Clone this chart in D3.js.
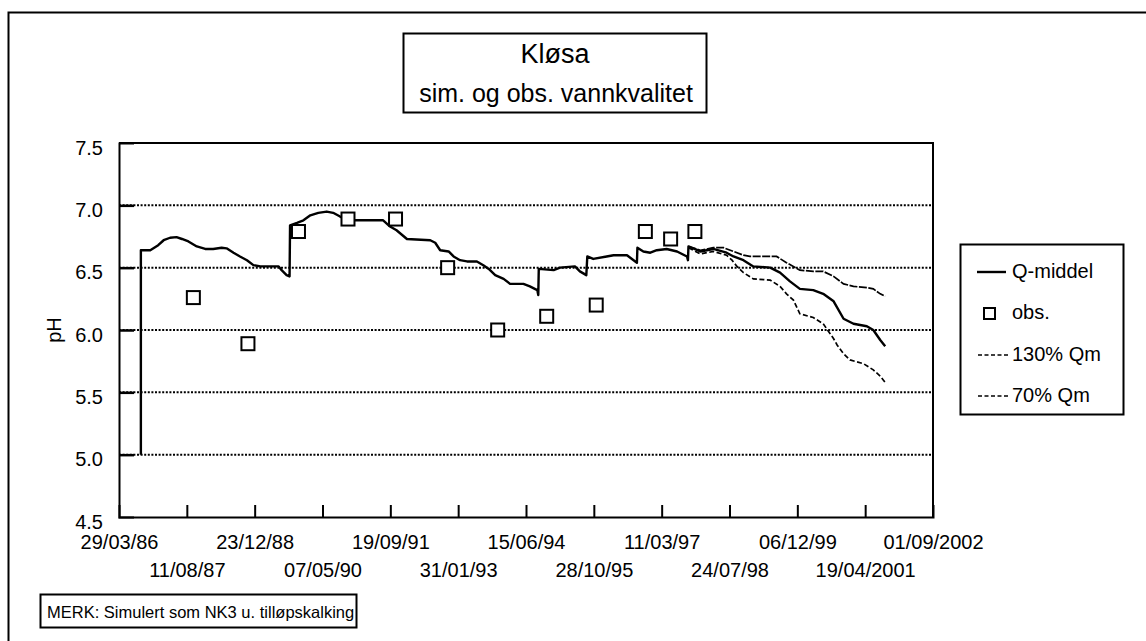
<!DOCTYPE html>
<html>
<head>
<meta charset="utf-8">
<script src="https://cdn.jsdelivr.net/npm/d3@7"></script>
<style>
  body { margin: 0; background: #fff; }
  svg { font-family: "Liberation Sans", Arial, sans-serif; }
</style>
</head>
<body>
<div id="chart"></div>
<script>
// x tick labels (every 500 days)
const xTickLabels = ["29/03/86","11/08/87","23/12/88","07/05/90","19/09/91","31/01/93",
  "15/06/94","28/10/95","11/03/97","24/07/98","06/12/99","19/04/2001","01/09/2002"];
const yTicks = [4.5, 5.0, 5.5, 6.0, 6.5, 7.0, 7.5];

// simulated pH, Q-middel  [decimal year, pH]
const qMiddel = [
  [1986.68,5.00],[1986.68,6.64],[1986.87,6.64],[1987.03,6.68],[1987.14,6.72],[1987.27,6.74],
  [1987.40,6.745],[1987.51,6.73],[1987.64,6.71],[1987.81,6.67],[1987.98,6.65],[1988.14,6.65],
  [1988.31,6.66],[1988.41,6.655],[1988.55,6.62],[1988.68,6.59],[1988.82,6.56],[1988.95,6.52],
  [1989.09,6.51],[1989.46,6.51],[1989.52,6.48],[1989.62,6.44],[1989.68,6.43],[1989.69,6.84],
  [1989.83,6.86],[1989.96,6.88],[1990.10,6.92],[1990.26,6.94],[1990.43,6.95],[1990.56,6.94],
  [1990.70,6.91],[1990.87,6.88],[1991.57,6.88],[1991.71,6.83],[1991.84,6.80],[1992.05,6.73],
  [1992.52,6.72],[1992.62,6.70],[1992.72,6.64],[1992.89,6.63],[1992.99,6.59],[1993.12,6.56],
  [1993.26,6.55],[1993.46,6.55],[1993.59,6.52],[1993.70,6.49],[1993.83,6.44],[1994.00,6.41],
  [1994.13,6.37],[1994.40,6.37],[1994.53,6.35],[1994.68,6.32],[1994.70,6.28],[1994.71,6.49],
  [1995.01,6.48],[1995.14,6.50],[1995.44,6.51],[1995.54,6.47],[1995.67,6.44],[1995.69,6.59],
  [1995.81,6.57],[1996.08,6.59],[1996.22,6.60],[1996.49,6.60],[1996.69,6.54],[1996.70,6.66],
  [1996.82,6.63],[1996.96,6.62],[1997.09,6.64],[1997.29,6.65],[1997.50,6.63],[1997.70,6.59],
  [1997.72,6.56],[1997.73,6.67],[1997.97,6.63],[1998.23,6.65],[1998.50,6.62],[1998.64,6.59],
  [1998.84,6.56],[1999.04,6.51],[1999.38,6.50],[1999.58,6.46],[1999.78,6.39],[1999.98,6.33],
  [2000.25,6.32],[2000.45,6.29],[2000.66,6.23],[2000.86,6.09],[2001.06,6.05],[2001.33,6.03],
  [2001.46,6.00],[2001.60,5.92],[2001.70,5.87]
];

// 130% Qm
const q130 = [
  [1997.73,6.67],[1997.97,6.64],[1998.23,6.66],[1998.44,6.66],[1998.64,6.63],[1998.84,6.60],
  [1998.97,6.59],[1999.51,6.59],[1999.71,6.54],[1999.98,6.48],[2000.25,6.47],[2000.45,6.47],
  [2000.66,6.43],[2000.86,6.37],[2001.06,6.35],[2001.33,6.34],[2001.46,6.33],[2001.60,6.29],
  [2001.70,6.27]
];

// 70% Qm
const q70 = [
  [1997.73,6.66],[1997.97,6.61],[1998.23,6.63],[1998.50,6.60],[1998.61,6.56],[1998.71,6.51],
  [1998.84,6.46],[1999.04,6.41],[1999.38,6.40],[1999.58,6.35],[1999.71,6.29],[1999.85,6.24],
  [1999.98,6.13],[2000.25,6.10],[2000.45,6.05],[2000.59,5.97],[2000.66,5.93],[2000.73,5.88],
  [2000.86,5.81],[2000.99,5.76],[2001.26,5.73],[2001.46,5.68],[2001.60,5.63],[2001.70,5.58]
];

// observations
const obsYear = [1987.74,1988.84,1989.86,1990.86,1991.82,1992.87,1993.88,1994.87,1995.87,1996.86,1997.37,1997.86];
const obsPH   = [6.26,5.89,6.79,6.89,6.89,6.50,6.00,6.11,6.20,6.79,6.73,6.79];

const legendLabels = ["Q-middel", "obs.", "130% Qm", "70% Qm"];

// helpers
function yearToDate(y) {
  const yr = Math.floor(y);
  const start = new Date(yr, 0, 1), end = new Date(yr + 1, 0, 1);
  return new Date(+start + (y - yr) * (end - start));
}
function parseLabel(s) {
  const [d, m, y] = s.split("/").map(Number);
  return new Date(y < 100 ? 1900 + y : y, m - 1, d);
}

const W = 1146, H = 641;
const plot = { left: 119, right: 933, top: 143, bottom: 517 };

const svg = d3.select("#chart").append("svg")
  .attr("width", W).attr("height", H);

// outer frame (left + top visible)
svg.append("path")
  .attr("d", `M8.5,${H} V12.5 H${W}`)
  .attr("fill", "none").attr("stroke", "#000").attr("stroke-width", 2);

const tickDates = xTickLabels.map(parseLabel);
const x = d3.scaleTime()
  .domain([tickDates[0], tickDates[tickDates.length - 1]])
  .range([plot.left, plot.right]);
const y = d3.scaleLinear().domain([4.5, 7.5]).range([plot.bottom, plot.top]);

// gridlines
svg.append("g")
  .selectAll("line")
  .data(yTicks.filter(d => d > 4.5 && d < 7.5))
  .join("line")
    .attr("x1", plot.left).attr("x2", plot.right)
    .attr("y1", d => y(d)).attr("y2", d => y(d))
    .attr("stroke", "#000").attr("stroke-width", 2)
    .attr("stroke-dasharray", "2,1.6");

// plot border top / right
svg.append("path")
  .attr("d", `M${plot.left},${plot.top} H${plot.right} V${plot.bottom}`)
  .attr("fill", "none").attr("stroke", "#000").attr("stroke-width", 2);

// y axis
const yAxis = svg.append("g")
  .attr("transform", `translate(${plot.left},0)`)
  .call(d3.axisLeft(y).tickValues(yTicks).tickFormat(d3.format(".1f")).tickSize(-15).tickPadding(16));
yAxis.select(".domain").attr("stroke-width", 2);
yAxis.selectAll(".tick line").attr("stroke-width", 2.5);
yAxis.selectAll(".tick text")
  .attr("font-size", 20).attr("fill", "#000")
  .attr("dy", "0.55em");
yAxis.selectAll(".tick").filter(d => d === 4.5 || d === 7.5).select("line").remove();

// x axis
const xAxis = svg.append("g")
  .attr("transform", `translate(0,${plot.bottom})`)
  .call(d3.axisBottom(x).tickValues(tickDates).tickFormat((d, i) => xTickLabels[i]).tickSize(-12));
xAxis.select(".domain").attr("stroke-width", 2);
xAxis.selectAll(".tick line").attr("stroke-width", 2);
xAxis.selectAll(".tick").filter((d, i) => i === 0 || i === tickDates.length - 1).select("line").remove();
xAxis.selectAll(".tick text")
  .attr("font-size", 20).attr("fill", "#000")
  .attr("y", (d, i) => i % 2 === 0 ? 18 : 46)
  .attr("dy", "0.71em");

// y label
svg.append("text")
  .attr("transform", "translate(61,330) rotate(-90)")
  .attr("text-anchor", "middle")
  .attr("font-size", 20)
  .text("pH");

// lines
const line = d3.line()
  .x(d => x(yearToDate(d[0])))
  .y(d => y(d[1]));

svg.append("path").datum(q130)
  .attr("fill", "none").attr("stroke", "#000").attr("stroke-width", 1.7)
  .attr("stroke-dasharray", "8,1.5").attr("d", line);
svg.append("path").datum(q70)
  .attr("fill", "none").attr("stroke", "#000").attr("stroke-width", 1.7)
  .attr("stroke-dasharray", "5,2.5").attr("d", line);
svg.append("path").datum(qMiddel)
  .attr("fill", "none").attr("stroke", "#000").attr("stroke-width", 2.4)
  .attr("stroke-linejoin", "round").attr("d", line);

// observations
svg.append("g")
  .selectAll("rect")
  .data(obsYear.map((d, i) => [d, obsPH[i]]))
  .join("rect")
    .attr("x", d => x(yearToDate(d[0])) - 6.5)
    .attr("y", d => y(d[1]) - 6.5)
    .attr("width", 13).attr("height", 13)
    .attr("fill", "#fff").attr("stroke", "#000").attr("stroke-width", 2);

// title box
const title = svg.append("g");
title.append("rect")
  .attr("x", 403.5).attr("y", 33.5).attr("width", 303).attr("height", 79)
  .attr("fill", "#fff").attr("stroke", "#000").attr("stroke-width", 2);
title.append("text").attr("x", 555).attr("y", 63)
  .attr("text-anchor", "middle").attr("font-size", 27).text("Kløsa");
title.append("text").attr("x", 556).attr("y", 102)
  .attr("text-anchor", "middle").attr("font-size", 25).text("sim. og obs. vannkvalitet");

// legend
const legend = svg.append("g");
legend.append("rect")
  .attr("x", 960.5).attr("y", 244.5).attr("width", 163).attr("height", 170)
  .attr("fill", "#fff").attr("stroke", "#000").attr("stroke-width", 2);
const legY = [272, 313, 355, 396];
legendLabels.forEach((lab, i) => {
  const yy = legY[i];
  if (i === 0) {
    legend.append("line").attr("x1", 977).attr("x2", 1006).attr("y1", yy).attr("y2", yy)
      .attr("stroke", "#000").attr("stroke-width", 2.4);
  } else if (i === 1) {
    legend.append("rect").attr("x", 984).attr("y", yy - 5).attr("width", 11).attr("height", 11)
      .attr("fill", "#fff").attr("stroke", "#000").attr("stroke-width", 2);
  } else {
    legend.append("line").attr("x1", 978).attr("x2", 1008).attr("y1", yy).attr("y2", yy)
      .attr("stroke", "#000").attr("stroke-width", 1.6).attr("stroke-dasharray", "4,2.5");
  }
  legend.append("text").attr("x", 1012).attr("y", yy + 6)
    .attr("font-size", 20).text(lab);
});

// note box
const note = svg.append("g");
note.append("rect")
  .attr("x", 40.5).attr("y", 594.5).attr("width", 316).attr("height", 33)
  .attr("fill", "#fff").attr("stroke", "#000").attr("stroke-width", 2);
note.append("text").attr("x", 47).attr("y", 618)
  .attr("font-size", 16.5).text("MERK: Simulert som NK3 u. tilløpskalking");
</script>
</body>
</html>
